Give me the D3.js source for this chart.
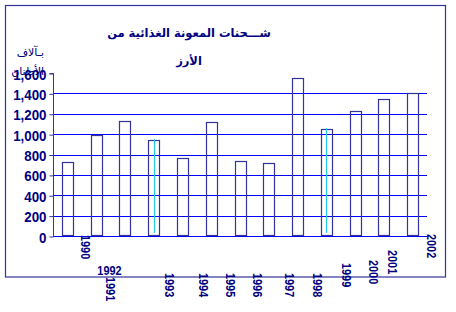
<!DOCTYPE html>
<html>
<head>
<meta charset="utf-8">
<script src="https://cdn.jsdelivr.net/npm/d3@7"></script>
<style>
html,body{margin:0;padding:0;background:#fff;}
svg{display:block;}
</style>
</head>
<body>
<svg id="chart" width="456" height="312"></svg>
<script>
const years = ["1990","1991","1992","1993","1994","1995","1996","1997","1998","1999","2000","2001","2002"];
const shipments = [725, 990, 1130, 940, 765, 1120, 735, 715, 1550, 1050, 1225, 1345, 1400];
const highlighted = ["1993","1999"];
const yTicks = [0, 200, 400, 600, 800, 1000, 1200, 1400, 1600];
const gridTicks = [0, 200, 400, 600, 800, 1000, 1200, 1400];
const titleLines = ["شـــحنات المعونة الغذائية من", "الأرز"];
const yTitleLines = ["بـآلاف", "الأطنان"];

// label layout: offsets relative to band centre (rotated labels), one horizontal
const labelLayout = {
  "1990": {dx: 18, top: 235}, "1991": {dx: 14, top: 277}, "1992": {horiz: true, dx: -15.5, base: 275},
  "1993": {dx: 16, top: 273}, "1994": {dx: 20.5, top: 273}, "1995": {dx: 19, top: 273},
  "1996": {dx: 17, top: 273}, "1997": {dx: 21, top: 273}, "1998": {dx: 19.5, top: 273},
  "1999": {dx: 20.5, top: 263}, "2000": {dx: 18, top: 260}, "2001": {dx: 9, top: 250},
  "2002": {dx: 19, top: 234}
};

const svg = d3.select("#chart");
const frameCol = "#333399", gridCol = "#0000ff", textCol = "#000080";
const numFont = "'Liberation Sans', Arial, sans-serif";
const arFont = "'DejaVu Sans', sans-serif";

svg.append("rect").attr("x", 5.5).attr("y", 5.5).attr("width", 440).attr("height", 271.5)
  .attr("fill", "#fff").attr("stroke", frameCol).attr("stroke-width", 1.2);

const x = d3.scaleBand().domain(years).range([53, 427]).paddingInner(0.62).paddingOuter(0.31);
const y = d3.scaleLinear().domain([0, 1600]).range([236, 73]);

// gridlines
svg.append("g").selectAll("line").data(gridTicks).join("line")
  .attr("x1", 53).attr("x2", 427)
  .attr("y1", d => Math.round(y(d)) + 0.5).attr("y2", d => Math.round(y(d)) + 0.5)
  .attr("stroke", gridCol).attr("stroke-width", 1.2);

// y title (second line sits under the top tick label, as in the original)
svg.append("g").selectAll("text").data(yTitleLines).join("text")
  .attr("x", 44).attr("y", (d, i) => 56 + i * 19)
  .attr("direction", "rtl").attr("text-anchor", "start")
  .attr("font-family", arFont).attr("font-size", 11).attr("fill", textCol)
  .text(d => d);

// y axis
const yAxis = d3.axisLeft(y).tickValues(yTicks).tickSize(4).tickPadding(3)
  .tickFormat(d3.format(","));
const ga = svg.append("g").attr("transform", "translate(53.5,0.5)").call(yAxis);
ga.select(".domain").attr("stroke", frameCol).attr("d", `M-4,${y(1600)}H0V${y(0)}`);
ga.selectAll(".tick line").attr("stroke", frameCol);
ga.selectAll(".tick text").attr("fill", textCol).attr("font-family", numFont)
  .attr("font-weight", "bold").attr("font-size", 15.5)
  .each(function() {
    const t = d3.select(this);
    t.attr("transform", "scale(0.86,1)").attr("x", -7 / 0.86).attr("dy", "0.36em");
  });

// bars
svg.append("g").selectAll("rect").data(years).join("rect")
  .attr("x", d => Math.round(x(d)) + 0.5)
  .attr("y", (d, i) => Math.round(y(shipments[i])) + 0.5)
  .attr("width", Math.round(x.bandwidth()))
  .attr("height", (d, i) => Math.round(y(0)) - 1 - Math.round(y(shipments[i])))
  .attr("fill", "none").attr("stroke", frameCol).attr("stroke-width", 1.2);

// highlight lines inside selected bars
svg.append("g").selectAll("line").data(years.filter(d => highlighted.includes(d))).join("line")
  .attr("x1", d => Math.round(x(d) + x.bandwidth() / 2) + 0.5)
  .attr("x2", d => Math.round(x(d) + x.bandwidth() / 2) + 0.5)
  .attr("y1", d => y(shipments[years.indexOf(d)]) - 1)
  .attr("y2", y(0) - 3)
  .attr("stroke", "#22ccee").attr("stroke-width", 1.2);

// x labels
const xl = svg.append("g");
years.forEach(d => {
  const L = labelLayout[d];
  const cx = x(d) + x.bandwidth() / 2 + L.dx;
  const t = xl.append("text").text(d).attr("fill", textCol).attr("font-family", numFont)
    .attr("font-weight", "bold").attr("font-size", 12.5);
  if (L.horiz) {
    t.attr("text-anchor", "middle")
     .attr("transform", `translate(${cx},${L.base}) scale(0.87,1)`);
  } else {
    t.attr("text-anchor", "start").attr("dy", "0.35em")
     .attr("transform", `translate(${cx},${L.top}) rotate(90) scale(0.87,1)`);
  }
});

// title
svg.append("g").selectAll("text").data(titleLines).join("text")
  .attr("x", 189).attr("y", (d, i) => 37 + i * 28)
  .attr("text-anchor", "middle").attr("direction", "rtl")
  .attr("font-family", arFont).attr("font-weight", "bold").attr("font-size", 11.5)
  .attr("fill", textCol).text(d => d);
</script>
</body>
</html>
